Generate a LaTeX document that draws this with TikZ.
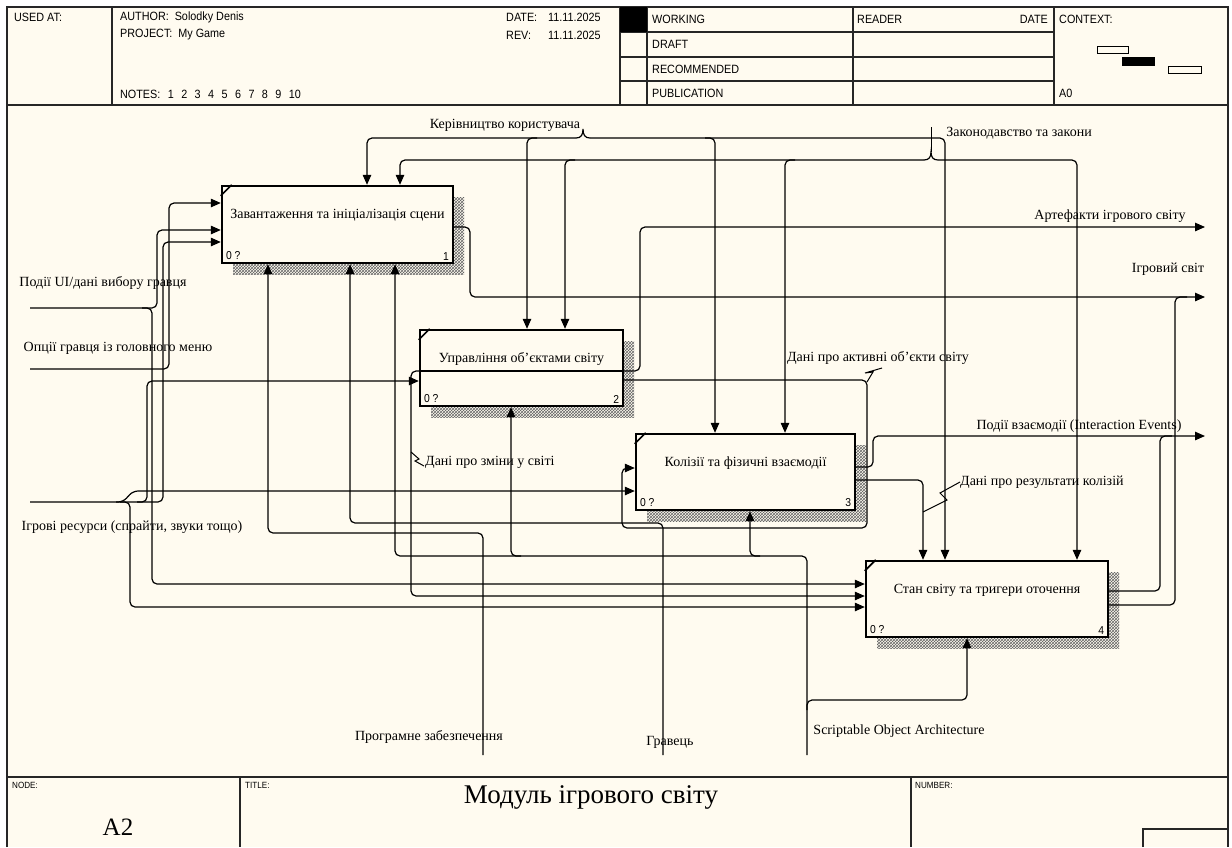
\documentclass[tikz,border=0pt]{standalone}
\usepackage{fontspec}
\setmainfont{Liberation Serif}
\newfontfamily\hdr[FakeStretch=0.9]{Liberation Sans}
\usetikzlibrary{arrows.meta,patterns,calc}
\definecolor{cream}{RGB}{255,251,240}

\newcommand\idefbox[7]{%
  \node[shadow, minimum width=#4pt, minimum height=#5pt, inner sep=0pt] at (#2+11,#3+11) {};
  \node[box, minimum width=#4pt, minimum height=#5pt] (#1) at (#2,#3) {};
  \draw[line width=1.6pt] ([yshift=-11pt]#1.north west) -- ([xshift=11pt]#1.north west);
  \node[lbl] (#1t) at ([yshift=9pt]#1.center) {#6};
  \node[num, anchor=south west] (#1a) at ([xshift=5pt,yshift=4pt]#1.south west) {0 ?};
  \node[num, anchor=south east] (#1n) at ([xshift=-5pt,yshift=4pt]#1.south east) {#7};
}
\newcommand\nsp{\hspace{0.62em}}

\begin{document}
\begin{tikzpicture}[x=1pt,y=-1pt,
  conn/.style={line width=1.2pt, rounded corners=5pt},
  arr/.style={conn, -{Triangle[length=10pt,width=8.5pt]}},
  box/.style={draw, line width=2.4pt, fill=cream, inner sep=0pt},
  shadow/.style={pattern=crosshatch, pattern color=black!60},
  lbl/.style={font=\fontsize{14}{16}\selectfont, inner sep=0pt},
  hd/.style={font=\hdr\fontsize{12}{14}\selectfont, inner sep=0pt, anchor=west},
  ft/.style={font=\hdr\fontsize{9}{10}\selectfont, inner sep=0pt, anchor=west},
  num/.style={font=\hdr\fontsize{11.5}{13}\selectfont, inner sep=0pt},
  frame/.style={line width=1.2pt, draw=black!85},
  sq/.style={line width=1pt}
]
\useasboundingbox (0,0) rectangle (1232,847);
\fill[white] (0,0) rectangle (1232,847);
\fill[cream] (7,7) rectangle (1228,847);

% ---------- frame and header ----------
\draw[frame] (7,847) -- (7,7) -- (1228,7) -- (1228,847);
\draw[frame] (7,105) -- (1228,105);
\draw[frame] (112,7) -- (112,105);
\draw[frame] (620,7) -- (620,105);
\draw[frame] (647,7) -- (647,105);
\draw[frame] (853,7) -- (853,105);
\draw[frame] (1054,7) -- (1054,105);
\draw[frame] (620,32) -- (1054,32);
\draw[frame] (620,57) -- (1054,57);
\draw[frame] (620,81) -- (1054,81);
\fill (620,7) rectangle (647,32);

\node[hd] (usedat) at (14,17) {USED AT:};
\node[hd] (author) at (120,17) {AUTHOR:\ \ Solodky Denis};
\node[hd] (project) at (120,35) {PROJECT:\ \ My Game};
\node[hd] (notes) at (120,94) {NOTES:\nsp 1\nsp 2\nsp 3\nsp 4\nsp 5\nsp 6\nsp 7\nsp 8\nsp 9\nsp 10};
\node[hd] (datel) at (506,17) {DATE:};
\node[hd] (datev) at (548,17) {11.11.2025};
\node[hd] (revl) at (506,35) {REV:};
\node[hd] (revv) at (548,35) {11.11.2025};
\node[hd] (working) at (652,19) {WORKING};
\node[hd] (draft) at (652,44.5) {DRAFT};
\node[hd] (recom) at (652,69) {RECOMMENDED};
\node[hd] (publ) at (652,93) {PUBLICATION};
\node[hd] (reader) at (857,19) {READER};
\node[hd, anchor=east] (rdate) at (1048,19) {DATE};
\node[hd] (context) at (1059,19) {CONTEXT:};
\node[hd] (a0) at (1059,93) {A0};
\draw[line width=1pt] (1097,46) rectangle (1128,53);
\fill (1122,57) rectangle (1155,66);
\draw[line width=1pt] (1168,66) rectangle (1201,73);

% ---------- footer ----------
\draw[frame] (7,777) -- (1228,777);
\draw[frame] (240,777) -- (240,847);
\draw[frame] (911,777) -- (911,847);
\draw[frame] (1143,847) -- (1143,829) -- (1228,829);
\node[ft] (nodel) at (12,785) {NODE:};
\node[ft] (titlel) at (245,785) {TITLE:};
\node[ft] (numl) at (915,785) {NUMBER:};
\node[font=\fontsize{27}{30}\selectfont, inner sep=0pt] (title) at (591,797) {Модуль ігрового світу};
\node[font=\fontsize{25}{28}\selectfont, inner sep=0pt] (nodeid) at (118,827) {A2};

% ---------- boxes ----------
\idefbox{b1}{337.5}{224.5}{231}{77}{Завантаження та ініціалізація сцени}{1}
\idefbox{b2}{521.5}{368}{203}{76}{Управління об'єктами світу}{2}
\idefbox{b3}{745.5}{472}{219}{76}{Колізії та фізичні взаємодії}{3}
\idefbox{b4}{987}{599}{242}{76}{Стан світу та тригери оточення}{4}

% ---------- controls ----------
\coordinate (kL) at (576,138);
\coordinate (kR) at (590,138);
\draw[arr] (kL) -- (367,138) -- (b1.north -| 367,0);
\draw[arr] (537,138) -- (527,138) -- (b2.north -| 527,0);
\draw[arr] (kR) -- (945,138) -- (b4.north -| 945,0);
\draw[arr] (705,138) -- (715,138) -- (b3.north -| 715,0);
\draw[line width=1.2pt] (kL) .. controls (581,138) and (583,135) .. (583,129) .. controls (583,135) and (585,138) .. (kR);
\node[lbl] (kerl) at (505,125) {Керівництво користувача};

\coordinate (zL) at (924,160);
\coordinate (zR) at (938,160);
\coordinate (zT) at (931,127);
\draw[arr] (zL) -- (400,160) -- (b1.north -| 400,0);
\draw[arr] (575,160) -- (565,160) -- (b2.north -| 565,0);
\draw[arr] (795,160) -- (785,160) -- (b3.north -| 785,0);
\draw[arr] (zR) -- (1077,160) -- (b4.north -| 1077,0);
\draw[line width=1.2pt] (zL) .. controls (929,160) and (931,157) .. (931,152) .. controls (931,157) and (933,160) .. (zR);
\draw[line width=1pt] (931,152) -- (zT);
\node[lbl] (zakl) at (1019,133) {Законодавство та закони};

% ---------- mechanisms ----------
\coordinate (m1) at (483,755);
\coordinate (m2) at (663,755);
\coordinate (m3) at (807,755);
\draw[arr] (m1) -- (483,533) -- (268,533) -- (b1.south -| 268,0);
\draw[arr] (m2) -- (663,523) -- (350,523) -- (b1.south -| 350,0);
\draw[arr] (m3) -- (807,556) -- (395,556) -- (b1.south -| 395,0);
\draw[arr] (521,556) -- (511,556) -- (b2.south -| 511,0);
\draw[arr] (760,556) -- (750,556) -- (b3.south -| 750,0);
\draw[arr] (807,710) -- (807,700) -- (967,700) -- (b4.south -| 967,0);
\node[lbl] (m1l) at (429,737) {Програмне забезпечення};
\node[lbl] (m2l) at (670,742) {Гравець};
\node[lbl] (m3l) at (899,731) {Scriptable Object Architecture};

% ---------- inputs ----------
\coordinate (i1) at (30,308);
\coordinate (i2) at (30,369);
\coordinate (i3) at (30,502);
\draw[arr] (i1) -- (157,308) -- (157,230) -- (b1.west |- 0,230);
\draw[arr] (142,308) -- (152,308) -- (152,584) -- (b4.west |- 0,584);
\draw[arr] (i2) -- (169,369) -- (169,203) -- (b1.west |- 0,203);
\draw[arr] (i3) -- (163,502) -- (163,242) -- (b1.west |- 0,242);
\draw[arr] (137,502) -- (147,502) -- (147,381) -- (b2.west |- 0,381);
\draw[arr] (116,502) -- (123,502) -- (133,491) -- (b3.west |- 0,491);
\draw[arr] (120,502) -- (130,502) -- (130,607) -- (b4.west |- 0,607);
\node[lbl] (i1l) at (103,283) {Події UI/дані вибору гравця};
\node[lbl] (i2l) at (118,348) {Опції гравця із головного меню};
\node[lbl] (i3l) at (132,527) {Ігрові ресурси (спрайти, звуки тощо)};

% ---------- outputs and internal arrows ----------
\draw[arr] (b1.east |- 0,227) -- (470,227) -- (470,297) -- (1205,297);
\draw[arr] (b2.east |- 0,371) -- (640,371) -- (640,227) -- (1205,227);
\draw[conn] (b2.west |- 0,371) -- (b2.east |- 0,371);
\draw[arr] (b2.west |- 0,371) -- (411,371) -- (411,596) -- (b4.west |- 0,596);
\draw[arr] (b2.east |- 0,380) -- (867,380) -- (867,528) -- (622,528) -- (622,468) -- (b3.west |- 0,468);
\draw[arr] (b3.east |- 0,467) -- (873,467) -- (873,436) -- (1205,436);
\draw[arr] (b3.east |- 0,480) -- (923,480) -- (b4.north -| 923,0);
\draw[conn] (b4.east |- 0,591) -- (1160,591) -- (1160,436) -- (1172,436);
\draw[conn] (b4.east |- 0,605) -- (1175,605) -- (1175,297) -- (1187,297);

\node[lbl] (o1l) at (1168,269) {Ігровий світ};
\node[lbl] (o2l) at (1110,216) {Артефакти ігрового світу};
\node[lbl] (o3l) at (1079,426) {Події взаємодії (Interaction Events)};

% squiggles and their labels
\draw[sq] (411,452) -- (419,459) -- (415,461) -- (424,466);
\node[lbl, anchor=west] (zmil) at (425,462) {Дані про зміни у світі};
\draw[sq] (867,382) -- (873,372) -- (865,373) -- (882,368);
\node[lbl] (aktl) at (878,358) {Дані про активні об'єкти світу};
\draw[sq] (923,512) -- (947,500) -- (940,493) -- (960,482);
\node[lbl, anchor=west] (rezl) at (960,482) {Дані про результати колізій};
\end{tikzpicture}
\end{document}
